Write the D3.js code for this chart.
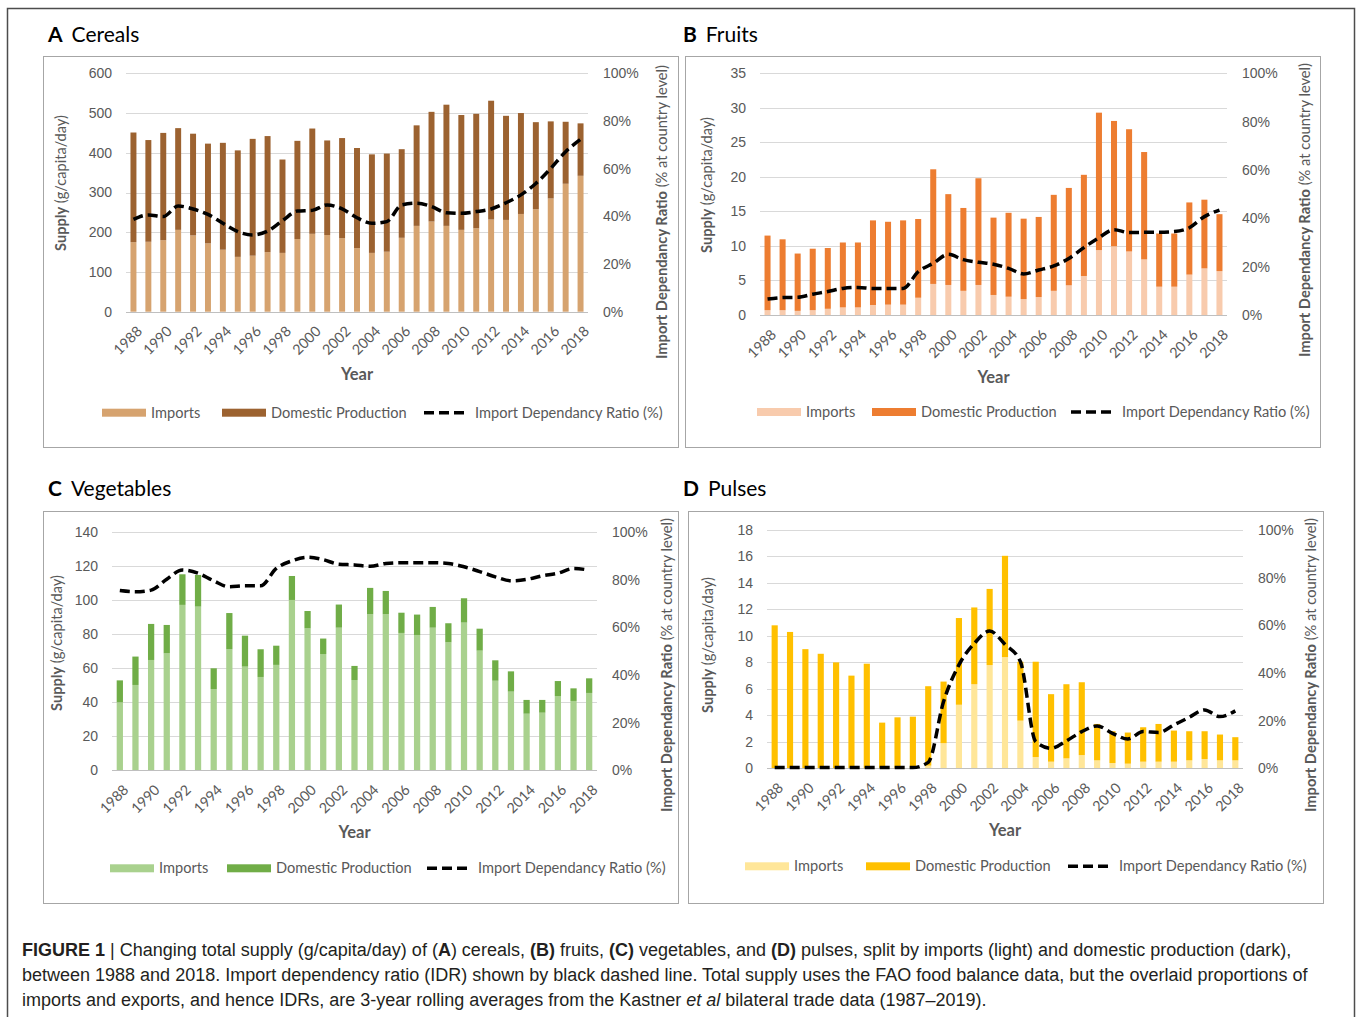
<!DOCTYPE html>
<html lang="en">
<head>
<meta charset="UTF-8">
<title>Figure 1</title>
<script src="https://cdn.jsdelivr.net/npm/d3@7"></script>
<style>
  html, body { margin: 0; background: #fff; }
  svg { display: block; font-family: Lato, "Open Sans", sans-serif; }
  .tick text { fill: #595959; font-size: 14px; }
  .caption { font-family: "Liberation Sans", Arial, sans-serif; font-size: 18px; fill: #231f20; }
</style>
</head>
<body>
<script>
// ---- data ----
const years = d3.range(1988, 2019);
const yearLabels = years.filter(y => y % 2 === 0);

const cerealImports  = [175,176,180,206,192,172,156,138,141,150,148,183,196,193,185,160,148,151,186,216,227,216,206,210,232,231,246,258,285,322,342];
const cerealDomestic = [276,256,270,256,256,251,269,268,294,292,235,247,265,238,252,252,248,247,223,253,276,305,289,288,299,262,254,219,194,156,132];
const cerealIdr      = [38.7,40.6,39.9,44.3,43.1,40.8,37.1,33.6,32.2,33.8,38.2,42.2,42.5,44.8,43.1,39.4,37.1,37.8,44.8,45.5,44.1,41.5,41.3,42.0,43.1,45.7,49.0,53.8,60.1,67.1,72.3];

const fruitImports  = [0.7,0.7,0.6,0.7,0.9,1.1,1.1,1.45,1.5,1.5,2.5,4.5,4.35,3.5,4.35,2.9,2.65,2.3,2.6,3.5,4.3,5.65,9.4,9.95,9.2,8.05,4.1,4.1,5.85,6.75,6.35];
const fruitDomestic = [10.8,10.26,8.3,8.9,8.8,9.4,9.4,12.25,12.0,12.2,11.4,16.6,13.15,12.0,15.45,11.2,12.15,11.65,11.6,13.9,14.1,14.65,19.9,18.15,17.7,15.55,7.7,7.7,10.45,9.95,8.25];
const fruitIdr      = [6.6,7.2,7.3,8.6,9.7,11.0,11.4,11.0,11.0,11.0,17.9,21.4,25.1,22.9,21.8,21.0,19.3,17.0,18.6,20.3,23.4,27.9,32.0,35.3,34.1,34.2,34.2,34.5,36.1,40.7,43.4];

const vegImports  = [40,50.2,64.9,68.8,97.3,96.3,47.8,71.2,61,54.9,62,100.2,83.5,68.4,83.9,53.1,91.8,91.8,80.8,79.6,83.9,75.3,86.9,70.4,52.7,46.3,33.3,33.9,43.7,40.8,45.5];
const vegDomestic = [12.9,16.7,21.2,16.7,18.0,18.6,12.2,21.3,18.2,16.3,11.3,14.1,10.2,9.1,13.6,8.3,15.5,13.7,11.9,12.0,12.2,11.2,14.3,12.9,12.0,11.9,8.1,7.5,8.8,7.4,8.6];
const vegIdr      = [75.5,75.0,75.7,80.3,84.2,82.8,79.6,77.1,77.5,77.5,84.8,88.0,89.5,88.5,86.6,86.3,85.7,86.9,87.2,87.2,87.2,86.9,85.5,83.5,81.3,79.6,80.2,81.7,82.8,84.8,84.1];

const pulseImports  = [0,0,0,0,0,0,0,0,0,0,0.2,1.9,4.8,6.35,7.8,8.4,3.6,0.85,0.5,0.75,1.0,0.6,0.4,0.35,0.5,0.5,0.5,0.6,0.7,0.6,0.6];
const pulseDomestic = [10.8,10.3,9.0,8.65,8.0,7.0,7.9,3.45,3.85,3.9,6.0,4.65,6.55,5.8,5.75,7.65,4.45,7.2,5.1,5.6,5.5,2.75,2.4,2.35,2.6,2.85,2.35,2.2,2.1,1.95,1.75];
const pulseIdr      = [0.3,0.3,0.3,0.3,0.3,0.3,0.3,0.3,0.3,0.3,2.5,28,43.4,52.4,57.6,52.0,44.8,11.2,8.4,11.5,15.4,17.8,14.7,12.3,15.4,15.0,18.2,21.4,24.5,21.7,24.1];

const idrTicks = [0, 0.2, 0.4, 0.6, 0.8, 1.0];

// ---- layout ----
const panels = [
  { letter: "A", name: "Cereals", imports: cerealImports, domestic: cerealDomestic, idr: cerealIdr,
    max: 600, step: 100, light: "#d6a36f", dark: "#9c6230",
    box: [43, 56, 678, 447], plot: [126, 73.3, 588, 311.7], title: [48, 42],
    leftTitle: [66, 183], rightTitle: [667, 212], yearDy: 68, legendDy: 101,
    legend: [102, 222, 424] },
  { letter: "B", name: "Fruits", imports: fruitImports, domestic: fruitDomestic, idr: fruitIdr,
    max: 35, step: 5, light: "#f8cbad", dark: "#ed7d31",
    box: [685, 56, 1320, 447], plot: [760, 73.3, 1227, 315], title: [683, 42],
    leftTitle: [712, 185], rightTitle: [1310, 210], yearDy: 68, legendDy: 97,
    legend: [757, 872, 1071] },
  { letter: "C", name: "Vegetables", imports: vegImports, domestic: vegDomestic, idr: vegIdr,
    max: 140, step: 20, light: "#a9d18e", dark: "#70ad47",
    box: [43, 511, 678, 903], plot: [112, 532.3, 597, 770.3], title: [48, 496],
    leftTitle: [62, 643], rightTitle: [672, 665], yearDy: 68, legendDy: 98,
    legend: [110, 227, 427] },
  { letter: "D", name: "Pulses", imports: pulseImports, domestic: pulseDomestic, idr: pulseIdr,
    max: 18, step: 2, light: "#ffe699", dark: "#ffc000",
    box: [688, 511, 1323, 903], plot: [767, 530, 1243, 768.3], title: [683, 496],
    leftTitle: [713, 645], rightTitle: [1316, 665], yearDy: 68, legendDy: 98,
    legend: [745, 866, 1068] }
];

const svg = d3.select("body").append("svg")
  .attr("width", 1358).attr("height", 1017);

svg.append("rect").attr("width", 1358).attr("height", 1017).attr("fill", "#fff");
// outer figure frame
svg.append("rect").attr("x", 7.5).attr("y", 8.5).attr("width", 1347).attr("height", 1030)
  .attr("fill", "none").attr("stroke", "#4d4d4d").attr("stroke-width", 1.5);

panels.forEach(p => {
  const [bx0, by0, bx1, by1] = p.box;
  const [px0, py0, px1, py1] = p.plot;
  const g = svg.append("g");

  g.append("rect").attr("x", bx0 + 0.5).attr("y", by0 + 0.5)
    .attr("width", bx1 - bx0).attr("height", by1 - by0)
    .attr("fill", "none").attr("stroke", "#a6a6a6");

  const title = g.append("text").attr("x", p.title[0]).attr("y", p.title[1])
    .attr("font-size", 21).attr("fill", "#000");
  title.append("tspan").attr("font-weight", "bold").text(p.letter);
  title.append("tspan").attr("dx", 9).text(p.name);

  const x = d3.scaleBand().domain(years).range([px0, px1]).paddingInner(0.6).paddingOuter(0.3);
  const y = d3.scaleLinear().domain([0, p.max]).range([py1, py0]);
  const y2 = d3.scaleLinear().domain([0, 1]).range([py1, py0]);

  // gridlines
  g.append("g").selectAll("line").data(d3.range(p.step, p.max + p.step / 2, p.step)).join("line")
    .attr("x1", px0).attr("x2", px1)
    .attr("y1", d => Math.round(y(d)) + 0.5).attr("y2", d => Math.round(y(d)) + 0.5)
    .attr("stroke", "#d9d9d9");

  // left axis
  const left = g.append("g").attr("transform", `translate(${px0 - 14},0)`)
    .call(d3.axisLeft(y).tickValues(d3.range(0, p.max + p.step / 2, p.step)).tickSize(0).tickPadding(0));
  left.select(".domain").remove();

  // right axis
  const right = g.append("g").attr("transform", `translate(${px1 + 15},0)`)
    .call(d3.axisRight(y2).tickValues(idrTicks).tickFormat(d3.format(".0%")).tickSize(0).tickPadding(0));
  right.select(".domain").remove();

  // stacked bars
  const rows = years.map((yr, i) => ({ year: yr, imports: p.imports[i], domestic: p.domestic[i] }));
  const stack = d3.stack().keys(["imports", "domestic"])(rows);
  const colors = { imports: p.light, domestic: p.dark };
  g.append("g").selectAll("g").data(stack).join("g")
    .attr("fill", s => colors[s.key])
    .selectAll("rect").data(s => s).join("rect")
    .attr("x", d => x(d.data.year))
    .attr("width", x.bandwidth())
    .attr("y", d => y(d[1]))
    .attr("height", d => y(d[0]) - y(d[1]));

  // baseline
  g.append("line").attr("x1", px0).attr("x2", px1)
    .attr("y1", Math.round(py1) + 0.5).attr("y2", Math.round(py1) + 0.5)
    .attr("stroke", "#bfbfbf");

  // IDR dashed line
  const line = d3.line()
    .x((d, i) => x(years[i]) + x.bandwidth() / 2)
    .y(d => y2(d / 100))
    .curve(d3.curveMonotoneX);
  g.append("path").datum(p.idr).attr("d", line)
    .attr("fill", "none").attr("stroke", "#000").attr("stroke-width", 3.5)
    .attr("stroke-dasharray", "10,5");

  // year labels
  g.append("g").selectAll("text").data(yearLabels).join("text")
    .attr("transform", d => `translate(${x(d) + x.bandwidth() / 2 + 6},${py1 + 17}) rotate(-45)`)
    .attr("text-anchor", "end").attr("dy", "0.35em")
    .attr("font-size", 14.3).attr("fill", "#595959")
    .text(d => d);

  g.append("text").attr("x", (px0 + px1) / 2).attr("y", py1 + p.yearDy)
    .attr("text-anchor", "middle").attr("font-size", 16.5).attr("font-weight", "bold")
    .attr("fill", "#595959").text("Year");

  // axis titles
  const lt = g.append("text")
    .attr("transform", `translate(${p.leftTitle[0]},${p.leftTitle[1]}) rotate(-90)`)
    .attr("text-anchor", "middle").attr("font-size", 14.6).attr("fill", "#595959");
  lt.append("tspan").attr("font-weight", "bold").text("Supply");
  lt.append("tspan").text(" (g/capita/day)");

  const rt = g.append("text")
    .attr("transform", `translate(${p.rightTitle[0]},${p.rightTitle[1]}) rotate(-90)`)
    .attr("text-anchor", "middle").attr("font-size", 14.7).attr("fill", "#595959");
  rt.append("tspan").attr("font-weight", "bold").text("Import Dependancy Ratio");
  rt.append("tspan").text(" (% at country level)");

  // legend
  const ly = py1 + p.legendDy;
  const leg = g.append("g");
  [["Imports", p.light, p.legend[0]], ["Domestic Production", p.dark, p.legend[1]]].forEach(([label, c, lx]) => {
    leg.append("rect").attr("x", lx).attr("y", ly - 4).attr("width", 44).attr("height", 8).attr("fill", c);
    leg.append("text").attr("x", lx + 49).attr("y", ly).attr("dy", "0.35em")
      .attr("font-size", 14.6).attr("fill", "#595959").text(label);
  });
  leg.append("line").attr("x1", p.legend[2]).attr("x2", p.legend[2] + 44)
    .attr("y1", ly).attr("y2", ly)
    .attr("stroke", "#000").attr("stroke-width", 3.5).attr("stroke-dasharray", "10,5");
  leg.append("text").attr("x", p.legend[2] + 51).attr("y", ly).attr("dy", "0.35em")
    .attr("font-size", 14.6).attr("fill", "#595959").text("Import Dependancy Ratio (%)");
});

// caption
const cap = svg.append("g").attr("class", "caption");
const l1 = cap.append("text").attr("x", 22).attr("y", 956);
l1.append("tspan").attr("font-weight", "bold").text("FIGURE 1");
l1.append("tspan").text(" | Changing total supply (g/capita/day) of (");
l1.append("tspan").attr("font-weight", "bold").text("A");
l1.append("tspan").text(") cereals, ");
l1.append("tspan").attr("font-weight", "bold").text("(B)");
l1.append("tspan").text(" fruits, ");
l1.append("tspan").attr("font-weight", "bold").text("(C)");
l1.append("tspan").text(" vegetables, and ");
l1.append("tspan").attr("font-weight", "bold").text("(D)");
l1.append("tspan").text(" pulses, split by imports (light) and domestic production (dark),");
cap.append("text").attr("x", 22).attr("y", 981)
  .text("between 1988 and 2018. Import dependency ratio (IDR) shown by black dashed line. Total supply uses the FAO food balance data, but the overlaid proportions of");
const l3 = cap.append("text").attr("x", 22).attr("y", 1006);
l3.append("tspan").text("imports and exports, and hence IDRs, are 3-year rolling averages from the Kastner ");
l3.append("tspan").attr("font-style", "italic").text("et al");
l3.append("tspan").text(" bilateral trade data (1987\u20132019).");
</script>
</body>
</html>
